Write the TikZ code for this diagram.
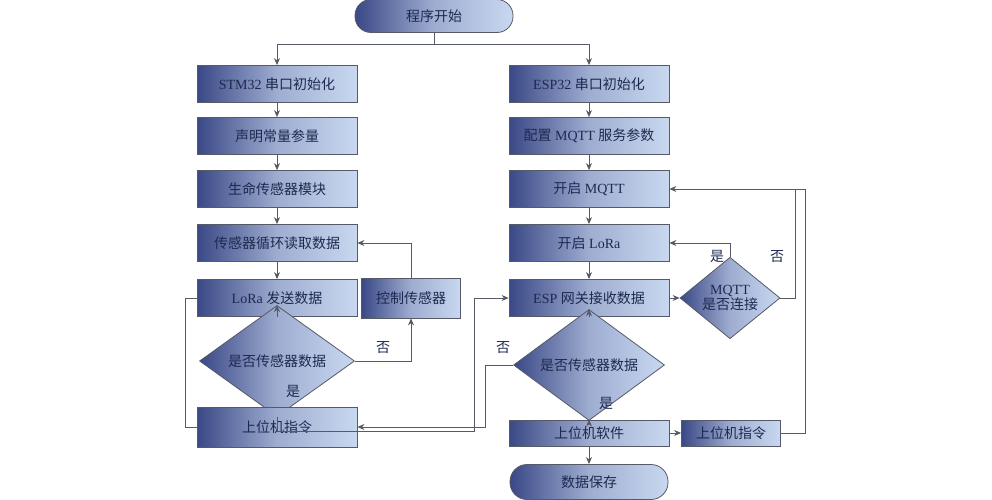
\documentclass[tikz,border=0pt]{standalone}
\usepackage{fontspec}
\setmainfont{Liberation Serif}
\newfontfamily\cjk{Noto Sans CJK SC}
\usetikzlibrary{shapes.geometric,arrows.meta}
\definecolor{dk}{HTML}{3A4886}
\definecolor{lt}{HTML}{C9D8F0}
\definecolor{tx}{HTML}{1E2950}
\definecolor{ln}{HTML}{555A66}
\begin{document}
\begin{tikzpicture}[x=1pt,y=-1pt,
  base/.style={draw=ln,line width=0.8pt,left color=dk,right color=lt,middle color=lt!70!dk,text=tx,font=\fontsize{14}{16}\selectfont,inner sep=0pt},
  box/.style={base,rectangle,minimum width=160pt,minimum height=37pt},
  sbox/.style={base,rectangle,minimum width=99pt,minimum height=#1},
  dia/.style={base,diamond,aspect=2.7,minimum width=#1},
  term/.style={base,rounded rectangle,minimum width=158pt,minimum height=34pt},
  ar/.style={draw=ln,line width=0.8pt,-{Stealth[length=7pt,width=6pt]}},
  li/.style={draw=ln,line width=0.8pt},
  lab/.style={text=tx,font=\cjk\fontsize{14}{16}\selectfont}]
\usetikzlibrary{shapes.misc}
\useasboundingbox (0,0) rectangle (992,500);
\node[base,rectangle,rounded corners=16pt,minimum width=158pt,minimum height=33pt] (start) at (434,16) {\cjk 程序开始};
% left column
\node[box] (l1) at (277,84) {STM32 {\cjk 串口初始化}};
\node[box] (l2) at (277,136) {\cjk 声明常量参量};
\node[box] (l3) at (277,189) {\cjk 生命传感器模块};
\node[box] (l4) at (277,243) {\cjk 传感器循环读取数据};
\node[box] (l5) at (277,298) {LoRa {\cjk 发送数据}};
\node[sbox=40pt] (ctl) at (411,298) {\cjk 控制传感器};
\node[base,diamond,minimum width=155pt,minimum height=54pt] (ld) at (277,361) {\cjk 是否传感器数据};
\node[box,minimum height=40pt] (lcmd) at (277,427) {\cjk 上位机指令};
% right column
\node[box] (r1) at (589,84) {ESP32 {\cjk 串口初始化}};
\node[box] (r2) at (589,136) {{\cjk 配置} MQTT {\cjk 服务参数}};
\node[box] (r3) at (589,189) {{\cjk 开启} MQTT};
\node[box] (r4) at (589,243) {{\cjk 开启} LoRa};
\node[box] (r5) at (589,298) {ESP {\cjk 网关接收数据}};
\node[base,diamond,minimum width=100pt,minimum height=74pt,align=center,font=\fontsize{14}{15}\selectfont] (md) at (730,298) {MQTT\\{\cjk 是否连接}};
\node[base,diamond,minimum width=151pt,minimum height=56pt] (rd) at (589,365) {\cjk 是否传感器数据};
\node[box,minimum height=26pt] (soft) at (589,433) {\cjk 上位机软件};
\node[sbox=26pt] (rcmd) at (731,433) {\cjk 上位机指令};
\node[base,rectangle,rounded corners=17pt,minimum width=158pt,minimum height=35pt] (save) at (589,482) {\cjk 数据保存};
% connectors
\coordinate (sp) at (434,44);
\draw[li] (start) -- (sp);
\draw[ar] (sp) -| (l1);
\draw[ar] (sp) -| (r1);
\draw[ar] (l1) -- (l2); \draw[ar] (l2) -- (l3); \draw[ar] (l3) -- (l4); \draw[ar] (l4) -- (l5);
\draw[ar] (l5) -- (ld);
\draw[ar] (ld.east) -| (ctl.south);
\draw[ar] (ctl.north) |- (l4.east);
\draw[li] (l5.west) -- ++(-11,0) |- (lcmd.west);
\draw[ar] (ld.south) -- ++(0,15) -| (474,298) -- (r5.west);
\draw[ar] (rd.west) -- ++(-28,0) |- (lcmd.east);
\draw[ar] (r1) -- (r2); \draw[ar] (r2) -- (r3); \draw[ar] (r3) -- (r4); \draw[ar] (r4) -- (r5);
\draw[ar] (r5) -- (md);
\draw[ar] (md.north) |- (r4.east);
\draw[ar] (md.east) -| (795,189) -- (r3.east);
\draw[li] (rcmd.east) -| (805,189) -- (795,189);
\draw[ar] (r5) -- (rd);
\draw[ar] (rd) -- (soft);
\draw[ar] (soft) -- (rcmd);
\draw[ar] (soft) -- (save);
% labels
\node[lab] at (383,348) {否};
\node[lab] at (293,391) {是};
\node[lab] at (503,348) {否};
\node[lab] at (606,403) {是};
\node[lab] at (717,256) {是};
\node[lab] at (777,257) {否};
\end{tikzpicture}
\end{document}
